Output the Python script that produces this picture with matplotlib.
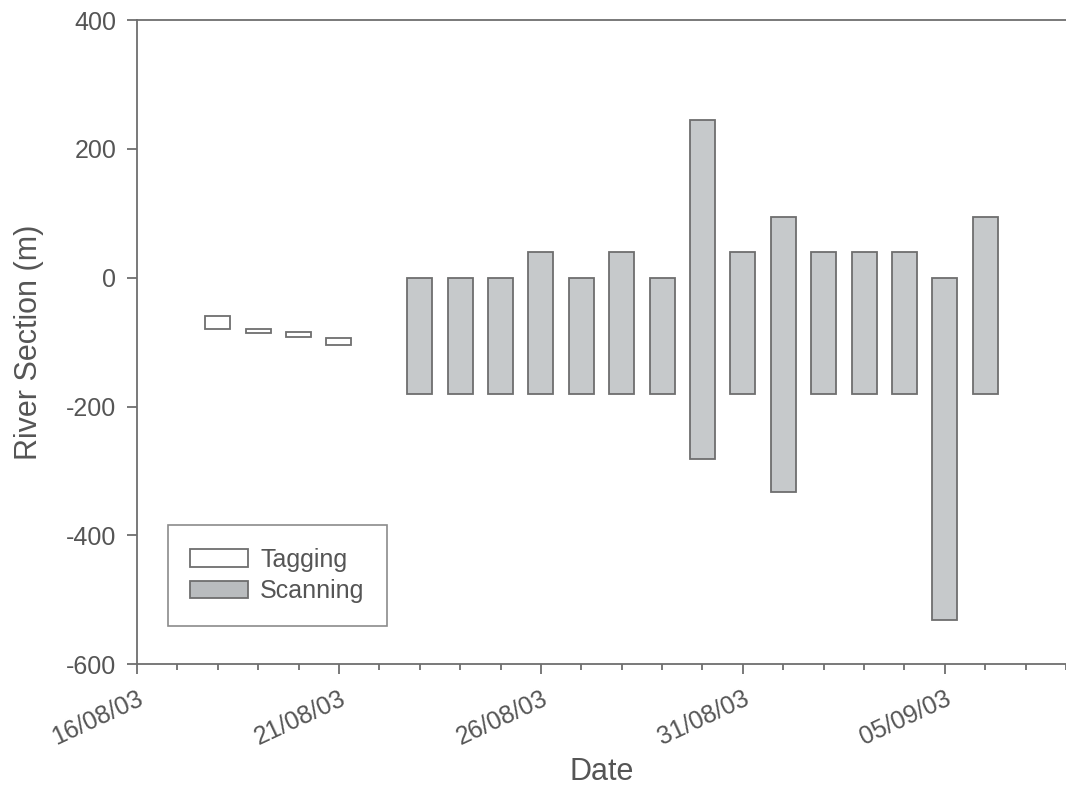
import matplotlib.pyplot as plt
import matplotlib.dates as mdates
import numpy as np
from datetime import datetime
from matplotlib.patches import Patch

plt.rcParams['font.family'] = ['Liberation Sans', 'DejaVu Sans']
plt.rcParams['axes.unicode_minus'] = False

# tagging sections (m)
tag_dates = ["18/08/03", "19/08/03", "20/08/03", "21/08/03"]
tag_low = [-80, -85, -92, -105]
tag_high = [-60, -80, -84, -93]

# scanning sections (m)
scan_dates = ["23/08/03", "24/08/03", "25/08/03", "26/08/03", "27/08/03",
              "28/08/03", "29/08/03", "30/08/03", "31/08/03", "01/09/03",
              "02/09/03", "03/09/03", "04/09/03", "05/09/03", "06/09/03"]
scan_low = [-180, -180, -180, -180, -180, -180, -180, -282, -180, -332,
            -180, -180, -180, -532, -180]
scan_high = [0, 0, 0, 40, 0, 40, 0, 245, 40, 95, 40, 40, 40, 0, 95]


def to_dt(s):
    return datetime.strptime(s, "%d/%m/%y")


if __name__ == "__main__":
    grey = "#555555"
    edge = "#6e6e6e"
    fig = plt.figure(figsize=(10.66, 7.88), dpi=100)
    ax = fig.add_axes([0.1285, 0.157, 0.8715, 0.8175])

    td = [to_dt(d) for d in tag_dates]
    sd = [to_dt(d) for d in scan_dates]
    ax.bar(td, np.array(tag_high) - np.array(tag_low), bottom=tag_low, width=0.62,
           facecolor="white", edgecolor=edge, linewidth=1.3)
    ax.bar(sd, np.array(scan_high) - np.array(scan_low), bottom=scan_low, width=0.62,
           facecolor="#c6c9cb", edgecolor=edge, linewidth=1.3)

    ax.set_ylim(-600, 400)
    ax.set_yticks([-600, -400, -200, 0, 200, 400])
    start = mdates.date2num(to_dt("16/08/03"))
    ax.set_xlim(start, start + 22.94)
    # major every 5 days from 16/08, minor daily
    ax.set_xticks([start + 5 * i for i in range(5)])
    ax.set_xticks([start + i for i in range(24)], minor=True)
    ax.xaxis.set_major_formatter(mdates.DateFormatter("%d/%m/%y"))
    plt.setp(ax.get_xticklabels(), rotation=25, ha="right", rotation_mode="anchor")

    for s in ["left", "bottom", "top"]:
        ax.spines[s].set_color(edge)
        ax.spines[s].set_linewidth(1.3)
    ax.spines["right"].set_visible(False)
    ax.tick_params(axis="both", colors=edge, labelcolor=grey, labelsize=18,
                   direction="out", length=7, width=1.3)
    ax.tick_params(axis="y", pad=8)
    ax.tick_params(axis="x", which="minor", colors=edge, length=4, width=1.3)
    ax.tick_params(axis="x", which="major", pad=9)

    ax.set_xlabel("Date", fontsize=22, color=grey, labelpad=5)
    ax.set_ylabel("River Section (m)", fontsize=22, color=grey, labelpad=16)

    handles = [Patch(facecolor="white", edgecolor=edge, linewidth=1.3, label="Tagging"),
               Patch(facecolor="#b9bcbe", edgecolor=edge, linewidth=1.3, label="Scanning")]
    leg = ax.legend(handles=handles, loc="lower left", bbox_to_anchor=(0.033, 0.06),
                    fontsize=18, frameon=True, fancybox=False, edgecolor=edge,
                    handlelength=2.3, handleheight=0.7, borderpad=0.9, labelspacing=0.3,
                    handletextpad=0.5, borderaxespad=0)
    leg.get_frame().set_linewidth(1.2)
    for t in leg.get_texts():
        t.set_color(grey)

    plt.savefig("out.png", dpi=100)
